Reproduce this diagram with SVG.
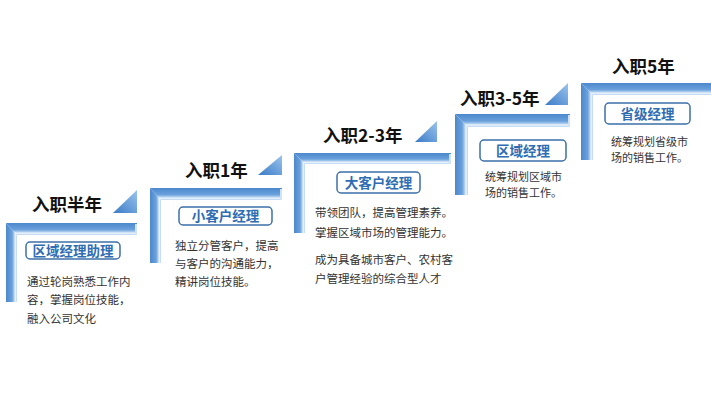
<svg xmlns="http://www.w3.org/2000/svg" width="711" height="400" viewBox="0 0 711 400">
<defs>
<linearGradient id="gh" x1="0" y1="0" x2="0" y2="1">
<stop offset="0" stop-color="#4c88cd"/>
<stop offset="0.55" stop-color="#6aa1dc"/>
<stop offset="0.72" stop-color="#a6c9ed"/>
<stop offset="0.84" stop-color="#eef5fc"/>
<stop offset="1" stop-color="#b7d4f1"/>
</linearGradient>
<linearGradient id="gv" x1="0" y1="0" x2="1" y2="0">
<stop offset="0" stop-color="#4c88cd"/>
<stop offset="0.55" stop-color="#6aa1dc"/>
<stop offset="0.72" stop-color="#a6c9ed"/>
<stop offset="0.84" stop-color="#eef5fc"/>
<stop offset="1" stop-color="#b7d4f1"/>
</linearGradient>
<linearGradient id="gt" x1="0" y1="1" x2="1" y2="0">
<stop offset="0" stop-color="#3b7bc6"/>
<stop offset="1" stop-color="#9ac4ee"/>
</linearGradient>
<style>
.h{fill:url(#gh)}
.v{fill:url(#gv)}
.cap{fill:#cfe3f6}
.tri{fill:url(#gt)}
.title{font-family:"Noto Sans CJK SC","Noto Sans",sans-serif;font-weight:bold;font-size:17.5px;fill:#111}
.box{fill:#fff;stroke:#3d70a8;stroke-width:1.5}
.lbl{font-family:"Noto Sans CJK SC","Noto Sans",sans-serif;font-weight:bold;font-size:13.5px;fill:#2f6db3;text-anchor:middle}
.desc{font-family:"Noto Sans CJK SC","Noto Sans",sans-serif;font-size:11.5px;fill:#333}
.desc2{font-family:"Noto Sans CJK SC","Noto Sans",sans-serif;font-size:11px;fill:#333}
</style>
</defs>
<rect width="711" height="400" fill="#fff"/>
<g id="connectors">
<polygon class="tri" points="113,213 137,213 137,190"/>
<polygon class="tri" points="258,175 282,175 282,155"/>
<polygon class="tri" points="415,142 437,142 437,121"/>
<polygon class="tri" points="545,105 568,105 568,83"/>
</g>
<g id="step1">
<polygon class="h" points="6,223 137,223 137,235 17,235"/>
<polygon class="v" points="6,223 17,235 17,302 6,302"/>
<rect class="cap" x="135" y="224" width="2" height="11"/>
<text class="title" x="32" y="211">入职半年</text>
<rect class="box" x="26" y="242" width="94" height="17" rx="4"/>
<text class="lbl" x="73" y="255.5">区域经理助理</text>
<text class="desc" x="27" y="286">通过轮岗熟悉工作内</text>
<text class="desc" x="27" y="304">容，掌握岗位技能，</text>
<text class="desc" x="27" y="323">融入公司文化</text>
</g>
<g id="step2">
<polygon class="h" points="150,188 282,188 282,200 161,200"/>
<polygon class="v" points="150,188 161,200 161,263 150,263"/>
<rect class="cap" x="280" y="189" width="2" height="11"/>
<text class="title" x="185" y="177">入职1年</text>
<rect class="box" x="179" y="207" width="93" height="18" rx="4"/>
<text class="lbl" x="225.5" y="221">小客户经理</text>
<text class="desc" x="175" y="250">独立分管客户，提高</text>
<text class="desc" x="175" y="268">与客户的沟通能力，</text>
<text class="desc" x="175" y="286">精讲岗位技能。</text>
</g>
<g id="step3">
<polygon class="h" points="294,153 451,153 451,164 305,164"/>
<polygon class="v" points="294,153 305,164 305,233 294,233"/>
<rect class="cap" x="449" y="154" width="2" height="10"/>
<text class="title" x="323" y="142">入职2-3年</text>
<rect class="box" x="337" y="172" width="83" height="21" rx="4"/>
<text class="lbl" x="378.5" y="187.5">大客户经理</text>
<text class="desc" x="315" y="217">带领团队，提高管理素养。</text>
<text class="desc" x="315" y="237">掌握区域市场的管理能力。</text>
<text class="desc" x="315" y="264">成为具备城市客户、农村客</text>
<text class="desc" x="315" y="283">户管理经验的综合型人才</text>
</g>
<g id="step4">
<polygon class="h" points="455,114 570,114 570,127 468,127"/>
<polygon class="v" points="455,114 468,127 468,195 455,195"/>
<rect class="cap" x="568" y="115" width="2" height="12"/>
<text class="title" x="460" y="105">入职3-5年</text>
<rect class="box" x="480" y="140" width="86" height="21" rx="4"/>
<text class="lbl" x="523" y="155.5">区域经理</text>
<text class="desc2" x="485" y="181">统筹规划区域市</text>
<text class="desc2" x="485" y="197">场的销售工作。</text>
</g>
<g id="step5">
<polygon class="h" points="581,83 711,83 711,95 593,95"/>
<polygon class="v" points="581,83 593,95 593,160 581,160"/>
<text class="title" x="612" y="73">入职5年</text>
<rect class="box" x="605" y="103" width="85" height="21" rx="4"/>
<text class="lbl" x="647.5" y="118.5">省级经理</text>
<text class="desc2" x="611" y="146">统筹规划省级市</text>
<text class="desc2" x="611" y="162">场的销售工作。</text>
</g>
</svg>
